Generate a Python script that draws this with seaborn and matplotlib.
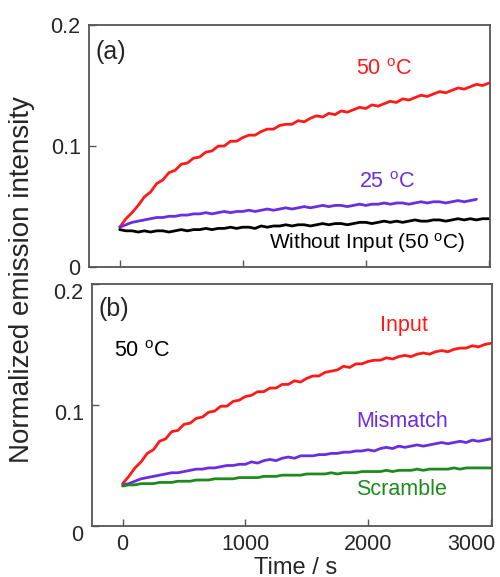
import matplotlib
matplotlib.use("Agg")
import matplotlib.pyplot as plt
from matplotlib.transforms import ScaledTranslation
import seaborn as sns

time_a = list(range(0, 3001, 50))
red_50C = [0.033, 0.040, 0.045, 0.051, 0.058, 0.062, 0.069, 0.072, 0.078, 0.080,
           0.085, 0.086, 0.090, 0.091, 0.095, 0.096, 0.100, 0.100, 0.104, 0.104,
           0.107, 0.109, 0.109, 0.112, 0.114, 0.114, 0.117, 0.118, 0.118, 0.121,
           0.120, 0.123, 0.125, 0.124, 0.127, 0.126, 0.129, 0.128, 0.130, 0.132,
           0.131, 0.134, 0.133, 0.135, 0.137, 0.136, 0.139, 0.138, 0.140, 0.142,
           0.141, 0.143, 0.145, 0.144, 0.146, 0.148, 0.147, 0.149, 0.151, 0.150,
           0.152]
time_a25 = list(range(0, 2901, 50))
purple_25C = [0.033, 0.035, 0.037, 0.038, 0.039, 0.040, 0.041, 0.041, 0.042, 0.042,
              0.043, 0.043, 0.044, 0.044, 0.045, 0.044, 0.045, 0.046, 0.045, 0.046,
              0.046, 0.047, 0.046, 0.047, 0.048, 0.047, 0.048, 0.049, 0.048, 0.049,
              0.050, 0.049, 0.050, 0.051, 0.050, 0.051, 0.051, 0.050, 0.051, 0.052,
              0.051, 0.052, 0.052, 0.053, 0.052, 0.053, 0.053, 0.052, 0.053, 0.054,
              0.053, 0.054, 0.054, 0.053, 0.054, 0.055, 0.054, 0.055, 0.056]
black_noinput = [0.031, 0.030, 0.030, 0.029, 0.030, 0.029, 0.030, 0.030, 0.029, 0.030,
                 0.031, 0.030, 0.031, 0.031, 0.032, 0.031, 0.032, 0.032, 0.033, 0.032,
                 0.033, 0.033, 0.032, 0.034, 0.033, 0.034, 0.034, 0.035, 0.034, 0.035,
                 0.035, 0.034, 0.035, 0.036, 0.035, 0.036, 0.036, 0.035, 0.036, 0.037,
                 0.037, 0.036, 0.037, 0.038, 0.037, 0.038, 0.037, 0.038, 0.039, 0.038,
                 0.038, 0.039, 0.039, 0.038, 0.039, 0.040, 0.039, 0.040, 0.039, 0.040,
                 0.040]

time_b = list(range(0, 3001, 50))
red_input = [0.035, 0.041, 0.048, 0.053, 0.060, 0.063, 0.070, 0.072, 0.078, 0.079,
             0.084, 0.085, 0.089, 0.090, 0.094, 0.095, 0.099, 0.099, 0.103, 0.104,
             0.107, 0.108, 0.111, 0.111, 0.114, 0.114, 0.117, 0.117, 0.120, 0.119,
             0.122, 0.124, 0.124, 0.127, 0.128, 0.129, 0.132, 0.131, 0.134, 0.134,
             0.136, 0.137, 0.137, 0.139, 0.138, 0.140, 0.141, 0.140, 0.142, 0.143,
             0.142, 0.144, 0.145, 0.144, 0.146, 0.147, 0.147, 0.149, 0.148, 0.150,
             0.151]
purple_mismatch = [0.034, 0.035, 0.037, 0.039, 0.040, 0.041, 0.042, 0.043, 0.044, 0.044,
                   0.045, 0.046, 0.047, 0.047, 0.048, 0.048, 0.049, 0.050, 0.050, 0.051,
                   0.051, 0.053, 0.052, 0.054, 0.055, 0.054, 0.056, 0.057, 0.056, 0.058,
                   0.058, 0.058, 0.059, 0.059, 0.060, 0.060, 0.061, 0.061, 0.062, 0.062,
                   0.063, 0.062, 0.064, 0.065, 0.064, 0.066, 0.065, 0.066, 0.067, 0.066,
                   0.067, 0.068, 0.069, 0.068, 0.069, 0.070, 0.069, 0.071, 0.070, 0.071,
                   0.072]
green_scramble = [0.033, 0.034, 0.034, 0.035, 0.035, 0.035, 0.036, 0.036, 0.036, 0.037,
                  0.037, 0.037, 0.038, 0.038, 0.038, 0.039, 0.039, 0.039, 0.039, 0.040,
                  0.040, 0.040, 0.040, 0.041, 0.041, 0.041, 0.042, 0.042, 0.042, 0.042,
                  0.043, 0.043, 0.043, 0.043, 0.044, 0.043, 0.044, 0.044, 0.044, 0.045,
                  0.045, 0.045, 0.045, 0.046, 0.045, 0.046, 0.046, 0.046, 0.047, 0.046,
                  0.047, 0.047, 0.047, 0.047, 0.048, 0.047, 0.048, 0.048, 0.048, 0.048,
                  0.048]

x_ticks = [0, 1000, 2000, 3000]
y_ticks = [0, 0.1, 0.2]
y_ticklabels = ["0", "0.1", "0.2"]

# ---------------- style ----------------
sns.set_style("ticks")
plt.rcParams['font.family'] = ['Liberation Sans', 'DejaVu Sans']
plt.rcParams['mathtext.fontset'] = 'custom'
plt.rcParams['mathtext.rm'] = 'Liberation Sans'
plt.rcParams['mathtext.it'] = 'Liberation Sans:italic'

RED = '#ff1a1a'
PURPLE = '#6a2de0'
BLACK = '#000000'
GREEN = '#1e8a1e'
SPINE = '#555555'
LW = 2.0

fig = plt.figure(figsize=(5.0, 5.77), dpi=100)
ax1 = fig.add_axes([0.178, 0.537, 0.802, 0.4197])
ax2 = fig.add_axes([0.184, 0.0884, 0.800, 0.4194])

sns.lineplot(x=time_a, y=red_50C, ax=ax1, color=RED, lw=LW)
sns.lineplot(x=time_a25, y=purple_25C, ax=ax1, color=PURPLE, lw=LW)
sns.lineplot(x=time_a, y=black_noinput, ax=ax1, color=BLACK, lw=LW)

sns.lineplot(x=time_b, y=red_input, ax=ax2, color=RED, lw=LW)
sns.lineplot(x=time_b, y=purple_mismatch, ax=ax2, color=PURPLE, lw=LW)
sns.lineplot(x=time_b, y=green_scramble, ax=ax2, color=GREEN, lw=LW)

for ax in (ax1, ax2):
    ax.set_xlim(-250, 3010)
    ax.set_ylim(0, 0.2)
    ax.set_xticks(x_ticks)
    ax.set_yticks(y_ticks)
    ax.set_yticklabels(y_ticklabels)
    ax.tick_params(direction='in', length=5, width=1.0, color=SPINE,
                   labelsize=15.5, pad=6, top=False, right=False)
    for s in ax.spines.values():
        s.set_visible(True)
        s.set_color(SPINE)
        s.set_linewidth(1.3)
    ax.set_xlabel("")
    ax.set_ylabel("")

ax1.set_xticklabels([])
ax2.set_xticklabels([str(v) for v in x_ticks])

# label offsets as in the reference
last = ax2.xaxis.get_major_ticks()[-1].label1
last.set_transform(last.get_transform() + ScaledTranslation(-0.19, 0, fig.dpi_scale_trans))
for tk in ax2.yaxis.get_major_ticks():
    lb = tk.label1
    lb.set_transform(lb.get_transform() + ScaledTranslation(0, -0.07, fig.dpi_scale_trans))

TFS = 15.5
deg = r'$^{\mathrm{o}}$'
ax1.text(-200, 0.178, "(a)", fontsize=18, va='center', ha='left')
ax1.text(2150, 0.163, "50 " + deg + "C", color=RED, fontsize=TFS, ha='center', va='center')
ax1.text(2170, 0.070, "25 " + deg + "C", color=PURPLE, fontsize=TFS, ha='center', va='center')
ax1.text(2010, 0.020, "Without Input (50 " + deg + "C)", color=BLACK, fontsize=15,
         ha='center', va='center')

ax2.text(-200, 0.179, "(b)", fontsize=18, va='center', ha='left')
ax2.text(-70, 0.144, "50 " + deg + "C", color=BLACK, fontsize=TFS, ha='left', va='center')
ax2.text(2290, 0.166, "Input", color=RED, fontsize=TFS, ha='center', va='center')
ax2.text(2276, 0.086, "Mismatch", color=PURPLE, fontsize=TFS, ha='center', va='center')
ax2.text(2276, 0.030, "Scramble", color=GREEN, fontsize=TFS, ha='center', va='center')

fig.text(0.044, 0.515, "Normalized emission intensity", rotation=90, fontsize=20,
         ha='center', va='center')
fig.text(0.592, 0.006, "Time / s", fontsize=17, ha='center', va='baseline')

fig.savefig("out.png", dpi=100)
